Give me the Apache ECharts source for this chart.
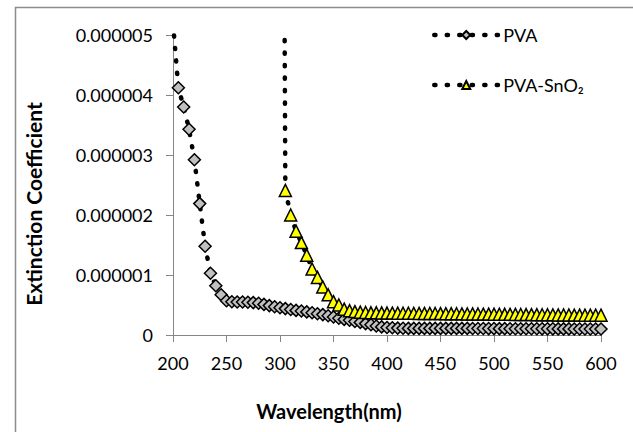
<!DOCTYPE html>
<html>
<head>
<meta charset="utf-8">
<script src="https://cdn.jsdelivr.net/npm/echarts@6/dist/echarts.min.js"></script>
<style>
  html, body { margin: 0; padding: 0; background: #fff; }
  #chart { width: 633px; height: 432px; }
</style>
</head>
<body>
<div id="chart"></div>
<script>
// Wavelength grid (nm)
const wavelengthsPVA = [200,205,210,215,220,225,230,235,240,245,250,255,260,265,270,275,280,285,290,295,
  300,305,310,315,320,325,330,335,340,345,350,355,360,365,370,375,380,385,390,395,
  400,405,410,415,420,425,430,435,440,445,450,455,460,465,470,475,480,485,490,495,
  500,505,510,515,520,525,530,535,540,545,550,555,560,565,570,575,580,585,590,595,600];

// Extinction coefficient of PVA film
const kPVA = [5.2e-6,4.12e-6,3.80e-6,3.43e-6,2.92e-6,2.19e-6,1.48e-6,1.03e-6,0.82e-6,0.67e-6,
  0.57e-6,0.555e-6,0.55e-6,0.55e-6,0.545e-6,0.54e-6,0.53e-6,0.51e-6,0.49e-6,0.47e-6,
  0.455e-6,0.44e-6,0.425e-6,0.41e-6,0.40e-6,0.385e-6,0.37e-6,0.355e-6,0.34e-6,0.32e-6,
  0.30e-6,0.28e-6,0.26e-6,0.245e-6,0.225e-6,0.21e-6,0.19e-6,0.17e-6,0.15e-6,0.135e-6,
  0.125e-6,0.12e-6,0.115e-6,0.112e-6,0.11e-6,0.11e-6,0.11e-6,0.11e-6,0.11e-6,0.11e-6,
  0.11e-6,0.11e-6,0.11e-6,0.11e-6,0.11e-6,0.11e-6,0.108e-6,0.108e-6,0.108e-6,0.107e-6,
  0.107e-6,0.106e-6,0.106e-6,0.105e-6,0.105e-6,0.105e-6,0.104e-6,0.104e-6,0.104e-6,0.103e-6,
  0.103e-6,0.103e-6,0.102e-6,0.102e-6,0.102e-6,0.101e-6,0.101e-6,0.10e-6,0.10e-6,0.10e-6,0.10e-6];

const wavelengthsSnO2 = [300,305,310,315,320,325,330,335,340,345,350,355,360,365,370,375,380,385,390,395,
  400,405,410,415,420,425,430,435,440,445,450,455,460,465,470,475,480,485,490,495,
  500,505,510,515,520,525,530,535,540,545,550,555,560,565,570,575,580,585,590,595,600];

// Extinction coefficient of PVA-SnO2 film
const kSnO2 = [22e-6,2.41e-6,2.00e-6,1.73e-6,1.54e-6,1.33e-6,1.10e-6,0.96e-6,0.80e-6,0.67e-6,
  0.555e-6,0.50e-6,0.43e-6,0.405e-6,0.39e-6,0.38e-6,0.375e-6,0.37e-6,0.37e-6,0.368e-6,
  0.366e-6,0.365e-6,0.364e-6,0.363e-6,0.362e-6,0.361e-6,0.36e-6,0.36e-6,0.359e-6,0.358e-6,
  0.357e-6,0.356e-6,0.355e-6,0.354e-6,0.353e-6,0.352e-6,0.351e-6,0.35e-6,0.349e-6,0.348e-6,
  0.347e-6,0.346e-6,0.345e-6,0.344e-6,0.343e-6,0.342e-6,0.341e-6,0.34e-6,0.339e-6,0.338e-6,
  0.337e-6,0.336e-6,0.335e-6,0.334e-6,0.333e-6,0.332e-6,0.332e-6,0.331e-6,0.331e-6,0.33e-6,0.33e-6];

const yTickLabels = ['0','0.000001','0.000002','0.000003','0.000004','0.000005'];
const seriesNames = ['PVA', 'PVA-SnO\u2082'];

const FONT = 'Lato, "Noto Sans", "DejaVu Sans", sans-serif';
const AXIS_GRAY = '#868686';

const chart = echarts.init(document.getElementById('chart'), null, { renderer: 'svg' });

// round-dot connector line
const dotted = { color: '#000', width: 4.5, type: [1.2, 11.3], cap: 'round' };

chart.setOption({
  animation: false,
  backgroundColor: '#fff',
  grid: { left: 173, right: 32, top: 35, bottom: 97 },
  graphic: [
    {
      type: 'rect', left: 13, top: 5, z: -10, silent: true,
      shape: { width: 640, height: 440 },
      style: { fill: 'none', stroke: '#8c8c8c', lineWidth: 1.5 }
    },
    {
      type: 'text', x: 329, y: 411,
      style: {
        text: 'Wavelength(nm)', font: 'bold 20px ' + FONT, fill: '#000',
        align: 'center', verticalAlign: 'middle'
      }
    },
    {
      type: 'text', x: 33, y: 204, rotation: Math.PI / 2,
      style: {
        text: 'Extinction Coefficient', font: 'bold 21px ' + FONT, fill: '#000',
        align: 'center', verticalAlign: 'middle'
      }
    }
  ],
  legend: {
    orient: 'vertical',
    left: 427, top: 19,
    itemWidth: 64, itemHeight: 10, itemGap: 28,
    lineStyle: { width: 'inherit' },
    textStyle: { fontFamily: FONT, fontSize: 18, lineHeight: 22, color: '#000' },
    data: seriesNames
  },
  xAxis: {
    type: 'value', min: 200, max: 600, interval: 50,
    axisLine: { lineStyle: { color: AXIS_GRAY, width: 1 } },
    axisTick: { show: true, inside: false, length: 7, lineStyle: { color: AXIS_GRAY } },
    axisLabel: { fontFamily: FONT, fontSize: 18, color: '#000', margin: 19 },
    splitLine: { show: false }
  },
  yAxis: {
    type: 'value', min: 0, max: 5e-6, interval: 1e-6,
    axisLine: { show: true, lineStyle: { color: AXIS_GRAY, width: 1 } },
    axisTick: { show: true, inside: false, length: 7, lineStyle: { color: AXIS_GRAY } },
    axisLabel: {
      fontFamily: FONT, fontSize: 18, color: '#000', margin: 20,
      formatter: v => yTickLabels[Math.round(v / 1e-6)]
    },
    splitLine: { show: false }
  },
  series: [
    {
      name: seriesNames[0], type: 'line', clip: true,
      data: wavelengthsPVA.map((w, i) => [w, kPVA[i]]),
      symbol: 'diamond', symbolSize: 12,
      lineStyle: dotted,
      itemStyle: { color: '#c0c0c0', borderColor: '#000', borderWidth: 1.5 }
    },
    {
      name: seriesNames[1], type: 'line', clip: true,
      data: wavelengthsSnO2.map((w, i) => [w, kSnO2[i]]),
      symbol: 'triangle', symbolSize: 12,
      lineStyle: dotted,
      itemStyle: { color: '#ffff00', borderColor: '#000', borderWidth: 1.5 }
    }
  ]
});
</script>
</body>
</html>
